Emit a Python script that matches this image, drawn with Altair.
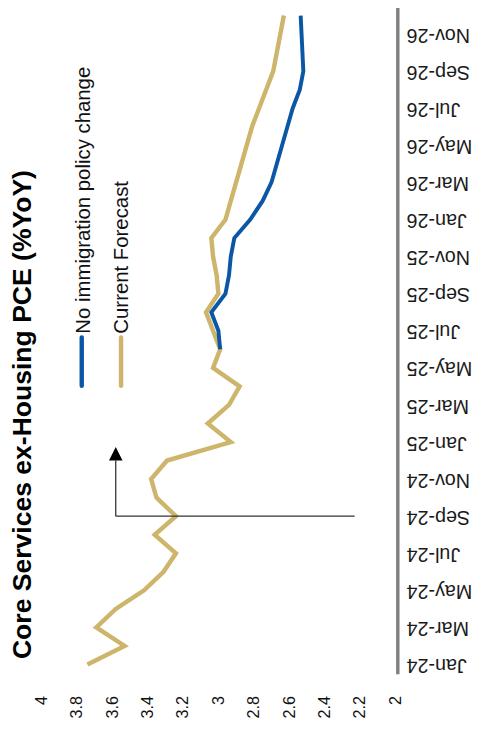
import altair as alt
import pandas as pd

months = ["Jan-24","Feb-24","Mar-24","Apr-24","May-24","Jun-24","Jul-24","Aug-24","Sep-24","Oct-24","Nov-24","Dec-24",
          "Jan-25","Feb-25","Mar-25","Apr-25","May-25","Jun-25","Jul-25","Aug-25","Sep-25","Oct-25","Nov-25","Dec-25",
          "Jan-26","Feb-26","Mar-26","Apr-26","May-26","Jun-26","Jul-26","Aug-26","Sep-26","Oct-26","Nov-26","Dec-26"]

current_forecast = [3.74, 3.53, 3.69, 3.58, 3.42, 3.31, 3.24, 3.36, 3.24, 3.35, 3.38, 3.29,
                    2.93, 3.06, 2.94, 2.88, 3.03, 2.99, 3.03, 3.07, 3.00, 3.01, 3.03, 3.04,
                    2.96, 2.93, 2.90, 2.87, 2.84, 2.81, 2.77, 2.73, 2.69, 2.67, 2.65, 2.63]

no_immig_start = "Jun-25"
no_immig = [2.99, 3.00, 3.04, 2.96, 2.94, 2.93, 2.91,
            2.82, 2.75, 2.70, 2.67, 2.64, 2.61, 2.58, 2.54, 2.52, 2.525, 2.53, 2.535]

value_ticks = [2, 2.2, 2.4, 2.6, 2.8, 3, 3.2, 3.4, 3.6, 3.8, 4]
date_ticks = months[::2]

title_text = "Core Services ex-Housing PCE (%YoY)"
legend_labels = ["No immigration policy change", "Current Forecast"]

GOLD = "#CDB56B"
BLUE = "#0B57A6"
NARROW = "Liberation Sans Narrow, Arial Narrow, sans-serif"
REG = "Liberation Sans, Arial, sans-serif"

start = months.index(no_immig_start)
gold_df = pd.DataFrame({"idx": list(range(len(months))), "value": current_forecast})
blue_df = pd.DataFrame({"idx": list(range(start, start + len(no_immig))), "value": no_immig})

label_array = "[" + ",".join("'" + m + "'" for m in months) + "]"
tick_idx = [months.index(m) for m in date_ticks]

x_axis = alt.Axis(values=value_ticks, format="~g", labelAngle=270, labelAlign="right",
                  labelBaseline="middle", domain=False, ticks=False, tickSize=0, grid=False,
                  labelPadding=22, labelFlush=False, labelOverlap=False, labelFontSize=16.5,
                  labelFont=REG, labelColor="#111111", title=None)
x_scale = alt.Scale(domain=[2, 4], reverse=True, zero=False, nice=False)
y_axis = alt.Axis(orient="right", values=tick_idx, labelExpr=label_array + "[round(datum.value)]",
                  labelAngle=180, labelAlign="right", labelBaseline="middle",
                  domainColor="#808080", domainWidth=3.5, offset=2, ticks=False, tickSize=0,
                  grid=False, labelPadding=9, labelFontSize=20, labelOverlap=False, labelFlush=False,
                  labelFont=REG, labelColor="#1a1a1a", title=None)
y_scale = alt.Scale(domain=[-0.5, len(months) - 0.5], zero=False, nice=False)

def X(f):
    return alt.X(f, scale=x_scale, axis=x_axis)

def Y(f):
    return alt.Y(f, scale=y_scale, axis=y_axis)

gold = alt.Chart(gold_df).mark_line(color=GOLD, strokeWidth=4.5, strokeJoin="miter").encode(
    x=X("value:Q"), y=Y("idx:Q"), order="idx:Q")
blue = alt.Chart(blue_df).mark_line(color=BLUE, strokeWidth=4, strokeJoin="miter").encode(
    x=X("value:Q"), y=Y("idx:Q"), order="idx:Q")

# forecast-start annotation
ann_df = pd.DataFrame({"m1": [months.index("Sep-24")], "m2": [months.index("Dec-24")],
                       "value": [3.58], "value2": [2.23]})
ann_line = alt.Chart(ann_df).mark_rule(color="#333333", strokeWidth=1.2).encode(
    x=X("value:Q"), x2="value2:Q", y=Y("m1:Q"))
ann_shaft = alt.Chart(ann_df).mark_rule(color="#222222", strokeWidth=1.2).encode(
    x=X("value:Q"), y=Y("m1:Q"), y2="m2:Q")
ann_head = alt.Chart(ann_df).mark_point(shape="M-1,1L1,1L0,-1Z", filled=True, color="#000000",
                                        size=190, opacity=1, yOffset=-7).encode(
    x=X("value:Q"), y=Y("m2:Q"))

one = alt.Data(values=[{"a": 0}])
leg_blue = alt.Chart(one).mark_rule(color=BLUE, strokeWidth=4.5, strokeCap="round").encode(
    x=alt.value(41), y=alt.value(337), y2=alt.value(386))
leg_gold = alt.Chart(one).mark_rule(color=GOLD, strokeWidth=4.5, strokeCap="round").encode(
    x=alt.value(81), y=alt.value(337), y2=alt.value(386))
leg_blue_t = alt.Chart(one).mark_text(text=legend_labels[0], angle=270, align="left", baseline="alphabetic",
                                      font=NARROW, fontSize=20.7, color="#111111").encode(
    x=alt.value(49), y=alt.value(333))
leg_gold_t = alt.Chart(one).mark_text(text=legend_labels[1], angle=270, align="left", baseline="alphabetic",
                                      font=NARROW, fontSize=20.7, color="#111111").encode(
    x=alt.value(88), y=alt.value(333))
title = alt.Chart(one).mark_text(text=title_text, angle=270, align="left", baseline="alphabetic",
                                 font=NARROW, fontSize=27, fontWeight="bold", color="#000000").encode(
    x=alt.value(-11), y=alt.value(664))

chart = alt.layer(gold, blue, ann_line, ann_shaft, ann_head, leg_blue, leg_gold,
                  leg_blue_t, leg_gold_t, title).properties(
    width=360, height=679,
    padding={"left": 34, "top": -8, "right": 80, "bottom": 55},
    autosize=alt.AutoSizeParams(type="none"),
    background="white",
).configure_view(stroke=None).configure_axis(labelOverlap=False)

chart.save("out.html", embed_options={"renderer": "svg", "actions": False})
